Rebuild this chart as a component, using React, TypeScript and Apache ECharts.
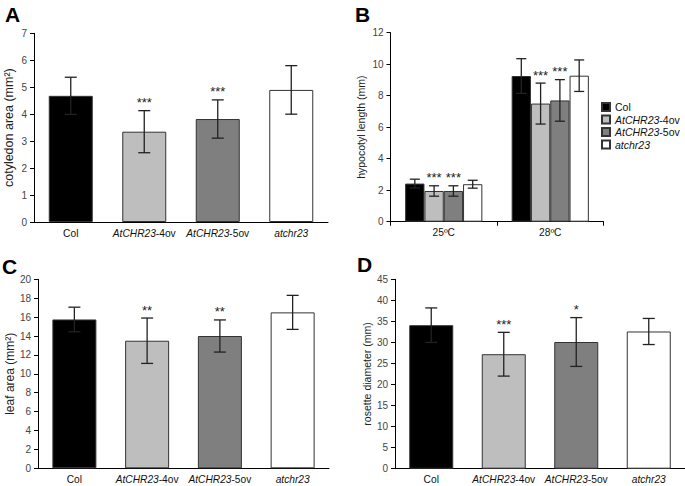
import React, { useEffect, useRef } from 'react';
import * as echarts from 'echarts';

const genotypes = ['Col', 'AtCHR23-4ov', 'AtCHR23-5ov', 'atchr23'];
const genotypeColors = ['#000000', '#bebebe', '#7f7f7f', '#ffffff'];

// Panel A: cotyledon area (mm²)
const cotyledonMean = [4.68, 3.35, 3.82, 4.9];
const cotyledonErr = [0.69, 0.78, 0.71, 0.9];
const cotyledonSig = ['', '***', '***', ''];

// Panel B: hypocotyl length (mm)
const temperatures = ['25ºC', '28ºC'];
const hypocotylMean = [
  [2.42, 9.25],
  [1.95, 7.5],
  [1.95, 7.7],
  [2.38, 9.27],
];
const hypocotylErr = [
  [0.28, 1.1],
  [0.33, 1.3],
  [0.33, 1.32],
  [0.25, 1.0],
];
const hypocotylSig = [
  ['', ''],
  ['***', '***'],
  ['***', '***'],
  ['', ''],
];

// Panel C: leaf area (mm²)
const leafMean = [15.75, 13.5, 14.0, 16.5];
const leafErr = [1.3, 2.4, 1.7, 1.8];
const leafSig = ['', '**', '**', ''];

// Panel D: rosette diameter (mm)
const rosetteMean = [34.1, 27.2, 30.1, 32.6];
const rosetteErr = [4.1, 5.2, 5.8, 3.1];
const rosetteSig = ['', '***', '*', ''];

const REG = '"Liberation Sans", Arial, Helvetica, sans-serif';
const BORDER = '#333333';
const ERR = '#222222';

const fmtName = (v: string) => {
  if (v.startsWith('AtCHR23')) return '{i|AtCHR23}' + v.slice(7);
  if (v === 'atchr23') return '{i|atchr23}';
  return v;
};

function makeErrSeries(
  idx: number,
  means: number[],
  errs: number[],
  sig: string[],
  capW: number,
  offset: number
) {
  return {
    type: 'custom',
    xAxisIndex: idx,
    yAxisIndex: idx,
    z: 5,
    silent: true,
    data: means.map((m, i) => [i, m, errs[i]]),
    encode: { x: 0, y: 1 },
    renderItem: (params: any, api: any) => {
      const x = api.value(0);
      const m = api.value(1);
      const e = api.value(2);
      const hi = api.coord([x, m + e]);
      const lo = api.coord([x, m - e]);
      const cx = hi[0] + offset;
      const h = capW / 2;
      const ls = { stroke: ERR, lineWidth: 1.3 };
      const children: any[] = [
        { type: 'line', shape: { x1: cx, y1: hi[1], x2: cx, y2: lo[1] }, style: ls },
        { type: 'line', shape: { x1: cx - h, y1: hi[1], x2: cx + h, y2: hi[1] }, style: ls },
        { type: 'line', shape: { x1: cx - h, y1: lo[1], x2: cx + h, y2: lo[1] }, style: ls },
      ];
      const s = sig[params.dataIndex];
      if (s) {
        children.push({
          type: 'text',
          style: {
            text: s,
            x: cx,
            y: hi[1] - 8,
            align: 'center',
            verticalAlign: 'middle',
            fontSize: 13,
            fontFamily: REG,
            fill: '#222',
          },
        });
      }
      return { type: 'group', children };
    },
  };
}

const yAxisBase = (idx: number, max: number, interval: number, name: string, nameGap: number, nameSize: number) => ({
  type: 'value',
  gridIndex: idx,
  min: 0,
  max,
  interval,
  name,
  nameLocation: 'middle',
  nameGap,
  nameTextStyle: { fontSize: nameSize, fontFamily: REG, color: '#222' },
  splitLine: { show: false },
  axisLine: { show: true, lineStyle: { color: '#000', width: 1 } },
  axisTick: { show: true, length: 4, lineStyle: { color: '#000' } },
  axisLabel: { fontSize: 10, fontFamily: REG, color: '#444', margin: 7 },
});

const xAxisBase = (idx: number, data: string[], ticks: boolean) => ({
  type: 'category',
  gridIndex: idx,
  data,
  axisLine: { show: true, lineStyle: { color: '#000', width: 1 } },
  axisTick: { show: ticks, length: 4, lineStyle: { color: '#000' } },
  axisLabel: {
    fontSize: 10.2,
    fontFamily: REG,
    color: '#111',
    margin: 6,
    interval: 0,
    formatter: fmtName,
    rich: { i: { fontStyle: 'italic', fontSize: 10.2, fontFamily: REG, color: '#111' } },
  },
});

const singleBar = (idx: number, means: number[], name: string) => ({
  type: 'bar',
  name,
  xAxisIndex: idx,
  yAxisIndex: idx,
  barWidth: 44,
  data: means.map((v, i) => ({
    value: v,
    itemStyle: { color: genotypeColors[i], borderColor: BORDER, borderWidth: 1 },
  })),
});

const B_BAR = 19.3;

const option: any = {
  animation: false,
  backgroundColor: '#ffffff',
  grid: [
    { left: 34, top: 33.3, width: 294, height: 188.7 },
    { left: 390.5, top: 32.7, width: 213, height: 189 },
    { left: 38, top: 279.3, width: 291, height: 189 },
    { left: 395, top: 279.3, width: 290, height: 189.4 },
  ],
  xAxis: [
    xAxisBase(0, genotypes, false),
    xAxisBase(1, temperatures, true),
    xAxisBase(2, genotypes, false),
    xAxisBase(3, genotypes, false),
  ],
  yAxis: [
    yAxisBase(0, 7, 1, 'cotyledon area (mm²)', 19, 12.5),
    yAxisBase(1, 12, 2, 'hypocotyl length (mm)', 24, 10.5),
    yAxisBase(2, 20, 2, 'leaf area (mm²)', 22, 12),
    yAxisBase(3, 45, 5, 'rosette diameter (mm)', 23, 10.5),
  ],
  legend: {
    data: genotypes,
    orient: 'vertical',
    left: 596,
    top: 96,
    itemWidth: 8,
    itemHeight: 8,
    itemGap: 0.5,
    icon: 'rect',
    formatter: fmtName,
    textStyle: {
      fontSize: 10.5,
      fontFamily: REG,
      color: '#111',
      lineHeight: 12,
      rich: { i: { fontStyle: 'italic', fontSize: 10.5, fontFamily: REG, color: '#111', lineHeight: 12 } },
    },
  },
  graphic: [
    { type: 'text', left: 5, top: 4, style: { text: 'A', fontSize: 21, fontWeight: 'bold', fontFamily: REG, fill: '#000' } },
    { type: 'text', left: 355, top: 4, style: { text: 'B', fontSize: 21, fontWeight: 'bold', fontFamily: REG, fill: '#000' } },
    { type: 'text', left: 2, top: 256, style: { text: 'C', fontSize: 21, fontWeight: 'bold', fontFamily: REG, fill: '#000' } },
    { type: 'text', left: 357, top: 254, style: { text: 'D', fontSize: 21, fontWeight: 'bold', fontFamily: REG, fill: '#000' } },
  ],
  series: [
    singleBar(0, cotyledonMean, 'cotyledon'),
    makeErrSeries(0, cotyledonMean, cotyledonErr, cotyledonSig, 12, 0),
    ...genotypes.map((g, s) => ({
      type: 'bar',
      name: g,
      xAxisIndex: 1,
      yAxisIndex: 1,
      barWidth: B_BAR,
      barGap: '0%',
      data: hypocotylMean[s],
      itemStyle: { color: genotypeColors[s], borderColor: BORDER, borderWidth: 1 },
    })),
    ...genotypes.map((g, s) =>
      makeErrSeries(1, hypocotylMean[s], hypocotylErr[s], hypocotylSig[s], 10, (s - 1.5) * B_BAR)
    ),
    singleBar(2, leafMean, 'leaf'),
    makeErrSeries(2, leafMean, leafErr, leafSig, 12, 0),
    singleBar(3, rosetteMean, 'rosette'),
    makeErrSeries(3, rosetteMean, rosetteErr, rosetteSig, 12, 0),
  ],
};

export default function App() {
  const ref = useRef<HTMLDivElement>(null);
  useEffect(() => {
    if (!ref.current) return;
    const chart = echarts.init(ref.current, null, { renderer: 'svg' });
    chart.setOption(option);
    return () => chart.dispose();
  }, []);
  return (
    <div
      ref={ref}
      style={{ position: 'absolute', left: 0, top: 0, width: 685, height: 486, background: '#fff' }}
    />
  );
}
